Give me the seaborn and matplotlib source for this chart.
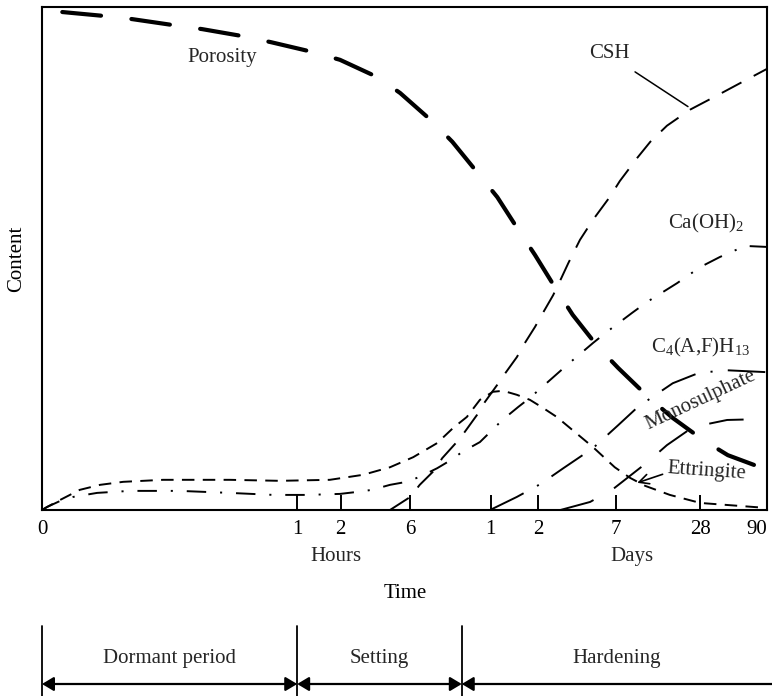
import numpy as np
import pandas as pd
import matplotlib
matplotlib.use("Agg")
import matplotlib.pyplot as plt
import matplotlib.transforms as mtransforms
import seaborn as sns

# ---------------------------------------------------------------------------
# Time axis: positions on a 0-100 scale (hours on the left, days on the right)
# ---------------------------------------------------------------------------
tick_pos = [0, 35.2, 41.2, 50.8, 61.9, 68.4, 79.2, 90.8, 100]
tick_labels = ["0", "1", "2", "6", "1", "2", "7", "28", "90"]

# ---------------------------------------------------------------------------
# Relative content of each phase (0-100) along the time axis
# ---------------------------------------------------------------------------
porosity_x = [2.8, 8.7, 12.4, 18.1, 22.1, 27.7, 31.6, 37.2, 41.1, 46.2, 49.4,
              53.8, 56.6, 60.1, 62.8, 65.7, 68.0, 71.0, 73.2, 76.7, 79.5,
              83.6, 87.0, 91.2, 94.6, 100.0]
porosity_y = [99.0, 98.2, 97.6, 96.4, 95.6, 94.2, 93.0, 91.1, 89.5, 86.1, 82.9,
              77.3, 73.2, 67.0, 62.2, 55.7, 50.7, 43.7, 38.8, 32.4, 28.2,
              22.5, 18.3, 13.9, 10.9, 8.0]

csh_x = [48.0, 50.8, 52.1, 54.2, 55.2, 57.2, 58.3, 60.0, 61.1, 62.8, 63.9,
         65.5, 66.6, 68.0, 69.1, 70.5, 71.5, 72.6, 74.2, 76.0, 78.3, 79.7,
         82.1, 83.9, 86.2, 89.4, 93.1, 96.6, 100.0]
csh_y = [0.0, 2.6, 5.0, 8.0, 10.3, 13.5, 15.5, 18.9, 21.5, 24.9, 27.2,
         30.4, 33.2, 36.4, 39.2, 42.7, 45.7, 49.1, 53.7, 57.7, 62.2, 65.4,
         70.0, 73.2, 76.4, 79.6, 82.4, 85.1, 87.7]

caoh2_x = [0.0, 0.7, 2.5, 4.3, 7.6, 12.1, 19.0, 25.9, 31.9, 36.6, 41.1, 43.5,
           45.5, 48.0, 50.3, 52.1, 54.5, 56.6, 57.9, 60.4, 62.1, 63.5, 65.7,
           67.3, 72.4, 76.0, 77.9, 81.4, 83.5, 87.6, 90.8, 93.5, 97.0, 100.0]
caoh2_y = [0.0, 0.6, 1.8, 2.6, 3.4, 3.8, 3.8, 3.4, 3.0, 3.0, 3.2, 3.6,
           4.0, 5.0, 5.6, 6.6, 8.3, 10.1, 11.5, 13.5, 15.9, 17.9, 20.5,
           22.3, 28.8, 33.2, 35.4, 39.2, 41.4, 45.1, 48.3, 50.3, 52.5, 52.3]

ettringite_x = [0.0, 0.7, 2.5, 5.2, 8.0, 11.2, 16.7, 25.9, 32.8, 39.7, 44.3,
                48.0, 51.2, 54.5, 56.7, 58.6, 60.4, 62.2, 63.6, 65.5, 67.3,
                69.1, 71.0, 73.5, 76.0, 79.0, 81.1, 83.2, 86.6, 90.8, 100.0]
ettringite_y = [0.0, 0.6, 2.0, 4.0, 5.0, 5.6, 6.0, 6.0, 5.8, 6.0, 7.0,
                8.5, 10.5, 13.3, 16.3, 18.5, 21.9, 23.5, 23.7, 22.9, 21.9,
                20.3, 18.5, 15.5, 12.5, 8.5, 6.4, 4.8, 3.0, 1.4, 0.4]

c4afh13_x = [61.8, 65.5, 68.8, 71.9, 76.0, 79.5, 82.2, 87.0, 90.5, 94.2, 100.0]
c4afh13_y = [0.0, 2.6, 5.2, 8.3, 12.3, 16.9, 20.5, 25.2, 27.2, 27.8, 27.4]

monosulphate_x = [71.5, 75.6, 78.8, 83.5, 86.2, 89.8, 94.5, 100.0]
monosulphate_y = [0.0, 1.6, 4.2, 9.5, 12.9, 16.5, 17.9, 18.1]

series = {
    "Porosity": (porosity_x, porosity_y),
    "CSH": (csh_x, csh_y),
    "Ca(OH)2": (caoh2_x, caoh2_y),
    "Ettringite": (ettringite_x, ettringite_y),
    "C4(A,F)H13": (c4afh13_x, c4afh13_y),
    "Monosulphate": (monosulphate_x, monosulphate_y),
}

frames = []
for name, (xs, ys) in series.items():
    frames.append(pd.DataFrame({"time": xs, "content": ys, "phase": name}))
df = pd.concat(frames, ignore_index=True)

# line width (pt), dash pattern (pt), cap style for each phase
line_styles = {
    "Porosity": (3.0, (0, (28, 22)), "round"),
    "CSH": (1.4, (0, (16, 10)), "butt"),
    "Ca(OH)2": (1.4, (0, (14, 10, 1.5, 10)), "butt"),
    "Ettringite": (1.4, (0, (9, 6)), "butt"),
    "C4(A,F)H13": (1.4, (0, (27, 11, 1.5, 11)), "butt"),
    "Monosulphate": (1.4, (0, (25, 17)), "butt"),
}

# ---------------------------------------------------------------------------
# Figure
# ---------------------------------------------------------------------------
sns.set_theme(style="white")
plt.rcParams["font.family"] = ["Liberation Serif", "DejaVu Serif"]
plt.rcParams["mathtext.fontset"] = "custom"
plt.rcParams["mathtext.rm"] = "Liberation Serif"
plt.rcParams["lines.scale_dashes"] = False
FS = 15

W, H = 772, 696
fig = plt.figure(figsize=(W / 100, H / 100), dpi=100)
fig.patch.set_facecolor("white")
ax = fig.add_axes([42 / W, 1 - 510 / H, (767 - 42) / W, (510 - 7) / H])
ax.set_facecolor("white")

for name in series:
    lw, ls, cap = line_styles[name]
    sns.lineplot(data=df[df["phase"] == name], x="time", y="content",
                 sort=False, estimator=None, color="black", linewidth=lw,
                 linestyle=ls, dash_capstyle=cap, legend=False, ax=ax)

ax.set_xlim(0, 100)
ax.set_ylim(0, 100)

for sp in ax.spines.values():
    sp.set_visible(True)
    sp.set_color("black")
    sp.set_linewidth(1.5)

ax.set_xticks(tick_pos)
ax.set_xticklabels(tick_labels)
ax.tick_params(axis="x", direction="in", length=11, width=1.4, pad=7,
               labelsize=FS, colors="black", bottom=True)
ax.tick_params(axis="y", left=False, labelleft=False)
ax.xaxis.get_majorticklabels()[-1].set_horizontalalignment("right")

ax.set_xlabel("Time", fontsize=FS, color="black")
ax.xaxis.set_label_coords(0.5007, -0.147)
ax.set_ylabel("Content", fontsize=FS, color="black")
ax.yaxis.set_label_coords(-0.022, 0.5)

xaxis_tr = ax.get_xaxis_transform()
ax.text(40.6, -0.0915, "Hours", transform=xaxis_tr, ha="center", va="center",
        fontsize=FS)
ax.text(81.4, -0.0934, "Days", transform=xaxis_tr, ha="center", va="center",
        fontsize=FS)

# curve labels
ax.text(24.8, 89.9, "Porosity", ha="center", va="center", fontsize=FS)
ax.text(78.2, 90.7, "CSH", ha="center", va="center", fontsize=FS)
ax.annotate("", xy=(89.1, 80.2), xytext=(81.8, 87.1),
            arrowprops=dict(arrowstyle="-", lw=1.1, color="black",
                            shrinkA=0, shrinkB=0))
ax.text(91.6, 56.9, r"Ca(OH)$_\mathregular{2}$", ha="center", va="center",
        fontsize=FS)
ax.text(90.8, 32.4, r"C$_\mathregular{4}$(A,F)H$_\mathregular{13}$",
        ha="center", va="center", fontsize=FS)
ax.text(90.8, 21.9, "Monosulphate", ha="center", va="center", fontsize=FS,
        rotation=25, rotation_mode="anchor")
ax.text(91.7, 7.6, "Ettringite", ha="center", va="center", fontsize=FS,
        rotation=-4, rotation_mode="anchor")
ax.annotate("", xy=(82.1, 5.4), xytext=(85.6, 7.1),
            arrowprops=dict(arrowstyle="->,head_length=0.5,head_width=0.25",
                            lw=1.2, color="black", shrinkA=0, shrinkB=0,
                            mutation_scale=14))

# ---------------------------------------------------------------------------
# Hydration stages below the time axis
# ---------------------------------------------------------------------------
phase_edges = [0, 35.2, 57.9, 100.7]
phase_names = ["Dormant period", "Setting", "Hardening"]
band = mtransforms.blended_transform_factory(ax.transData, fig.transFigure)
y_top, y_bot = 1 - 626 / H, 0.0
y_arrow, y_text = 1 - 684 / H, 1 - 659 / H

for e in phase_edges[:-1]:
    ax.plot([e, e], [y_top, y_bot], transform=band, clip_on=False,
            color="black", lw=1.3)

for i, name in enumerate(phase_names):
    x0, x1 = phase_edges[i], phase_edges[i + 1]
    style = "<|-|>" if i < len(phase_names) - 1 else "<|-"
    ax.annotate("", xy=(x1, y_arrow), xytext=(x0, y_arrow),
                xycoords=band, textcoords=band, annotation_clip=False,
                arrowprops=dict(arrowstyle=style + ",head_length=0.5,head_width=0.3",
                                lw=1.6, color="black", shrinkA=0, shrinkB=0,
                                mutation_scale=14))
    ax.text((x0 + x1) / 2, y_text, name, transform=band, ha="center",
            va="center", fontsize=FS)

fig.savefig("out.png", dpi=100, facecolor="white")
